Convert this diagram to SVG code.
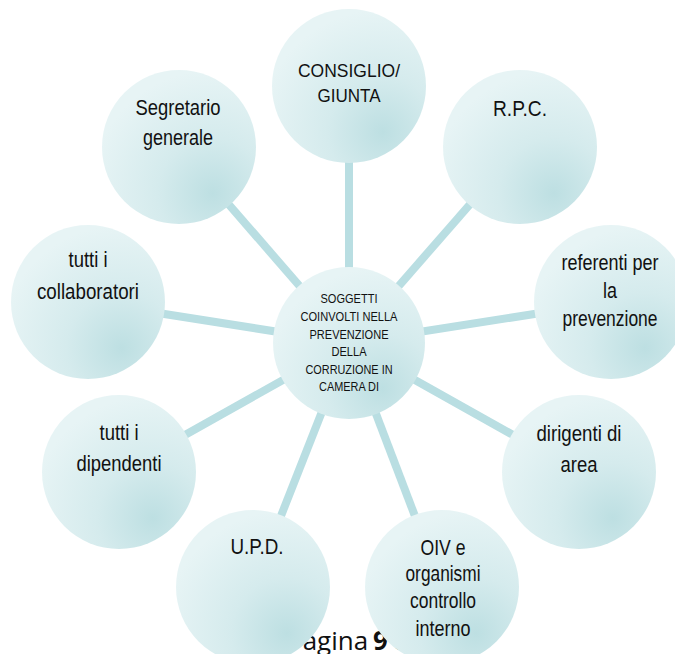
<svg xmlns="http://www.w3.org/2000/svg" width="675" height="654" viewBox="0 0 675 654">
<defs>
<radialGradient id="g" cx="0.72" cy="0.8" r="0.8">
<stop offset="0" stop-color="#bddfe2"/>
<stop offset="0.45" stop-color="#d5ebed"/>
<stop offset="1" stop-color="#e7f4f5"/>
</radialGradient>
<style>
.c{fill:url(#g);}
.t{font-family:"Liberation Sans",Arial,sans-serif;font-size:22px;fill:#111;text-anchor:middle;}
.s{font-size:18px;}
.m{font-size:13.5px;}
.cn line{stroke:#b9dee2;stroke-width:8;}
.f{font-family:"Open Sans","Noto Sans",sans-serif;font-size:26px;fill:#111;}
</style>
</defs>
<rect width="675" height="654" fill="#fff"/>
<g id="connectors" class="cn">
<line x1="349" y1="343" x2="349" y2="86"/>
<line x1="349" y1="343" x2="179" y2="147"/>
<line x1="349" y1="343" x2="520" y2="147"/>
<line x1="349" y1="343" x2="611" y2="302"/>
<line x1="349" y1="343" x2="88" y2="302"/>
<line x1="349" y1="343" x2="579" y2="472"/>
<line x1="349" y1="343" x2="119" y2="472"/>
<line x1="349" y1="343" x2="253" y2="587"/>
<line x1="349" y1="343" x2="442" y2="587"/>
</g>
<g id="footer">
<text class="f" x="287" y="650">Pagina</text>
<text class="f" x="373" y="650" font-weight="bold">9</text>
<text class="f" x="393" y="650">di</text>
</g>
<g id="center">
<circle class="c" cx="349" cy="343" r="76"/>
<text class="t m" x="349" y="303" textLength="57" lengthAdjust="spacingAndGlyphs">SOGGETTI</text>
<text class="t m" x="349" y="321" textLength="97" lengthAdjust="spacingAndGlyphs">COINVOLTI NELLA</text>
<text class="t m" x="349" y="339" textLength="79" lengthAdjust="spacingAndGlyphs">PREVENZIONE</text>
<text class="t m" x="349" y="356" textLength="35" lengthAdjust="spacingAndGlyphs">DELLA</text>
<text class="t m" x="349" y="374" textLength="87" lengthAdjust="spacingAndGlyphs">CORRUZIONE IN</text>
<text class="t m" x="349" y="391" textLength="60" lengthAdjust="spacingAndGlyphs">CAMERA DI</text>
</g>
<g id="consiglio">
<circle class="c" cx="349" cy="86" r="77"/>
<text class="t s" x="349" y="77" textLength="102" lengthAdjust="spacingAndGlyphs">CONSIGLIO/</text>
<text class="t s" x="349" y="102" textLength="63" lengthAdjust="spacingAndGlyphs">GIUNTA</text>
</g>
<g id="segretario">
<circle class="c" cx="179" cy="147" r="77"/>
<text class="t" x="178" y="115" textLength="85" lengthAdjust="spacingAndGlyphs">Segretario</text>
<text class="t" x="178" y="145" textLength="70" lengthAdjust="spacingAndGlyphs">generale</text>
</g>
<g id="rpc">
<circle class="c" cx="520" cy="147" r="77"/>
<text class="t" x="520" y="116" textLength="54" lengthAdjust="spacingAndGlyphs">R.P.C.</text>
</g>
<g id="referenti">
<circle class="c" cx="611" cy="302" r="77"/>
<text class="t" x="610" y="270" textLength="97" lengthAdjust="spacingAndGlyphs">referenti per</text>
<text class="t" x="610" y="298" textLength="14" lengthAdjust="spacingAndGlyphs">la</text>
<text class="t" x="610" y="326" textLength="95" lengthAdjust="spacingAndGlyphs">prevenzione</text>
</g>
<g id="collaboratori">
<circle class="c" cx="88" cy="302" r="77"/>
<text class="t" x="88" y="267" textLength="39" lengthAdjust="spacingAndGlyphs">tutti i</text>
<text class="t" x="88" y="299" textLength="102" lengthAdjust="spacingAndGlyphs">collaboratori</text>
</g>
<g id="dirigenti">
<circle class="c" cx="579" cy="472" r="77"/>
<text class="t" x="579" y="441" textLength="85" lengthAdjust="spacingAndGlyphs">dirigenti di</text>
<text class="t" x="579" y="472" textLength="37" lengthAdjust="spacingAndGlyphs">area</text>
</g>
<g id="dipendenti">
<circle class="c" cx="119" cy="472" r="77"/>
<text class="t" x="119" y="440" textLength="39" lengthAdjust="spacingAndGlyphs">tutti i</text>
<text class="t" x="119" y="471" textLength="85" lengthAdjust="spacingAndGlyphs">dipendenti</text>
</g>
<g id="upd">
<circle class="c" cx="253" cy="587" r="77"/>
<text class="t" x="257" y="554" textLength="53" lengthAdjust="spacingAndGlyphs">U.P.D.</text>
</g>
<g id="oiv">
<circle class="c" cx="442" cy="587" r="77"/>
<text class="t" x="443" y="555" textLength="45" lengthAdjust="spacingAndGlyphs">OIV e</text>
<text class="t" x="443" y="581" textLength="75" lengthAdjust="spacingAndGlyphs">organismi</text>
<text class="t" x="443" y="608" textLength="66" lengthAdjust="spacingAndGlyphs">controllo</text>
<text class="t" x="443" y="636" textLength="55" lengthAdjust="spacingAndGlyphs">interno</text>
</g>
</svg>
